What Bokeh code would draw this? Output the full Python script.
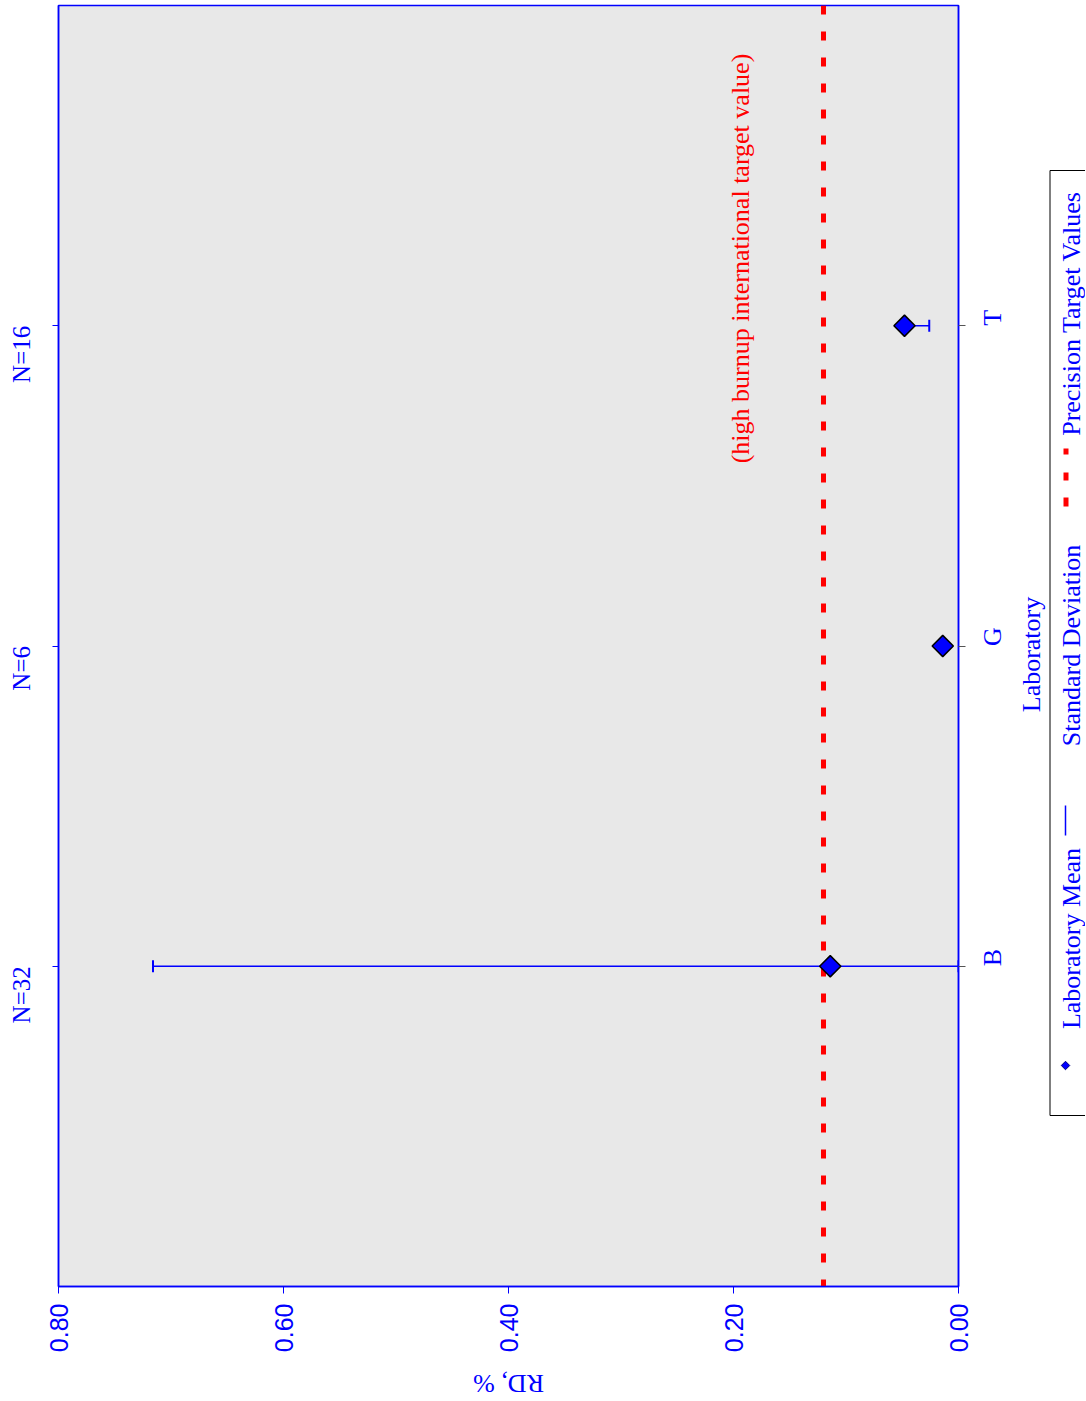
import math
from bokeh.plotting import figure
from bokeh.layouts import row
from bokeh.models import (Range1d, FixedTicker, LinearAxis, Label, Span, Whisker, TeeHead,
                          ColumnDataSource, NumeralTickFormatter)
from bokeh.core.properties import value
from bokeh.embed import file_html
from bokeh.resources import INLINE

# ---- data ----
labs = ["B", "G", "T"]
n_counts = ["N=32", "N=6", "N=16"]
lab_mean = [0.114, 0.014, 0.048]
sd_low = [0.0, 0.014, 0.026]
sd_high = [0.716, 0.014, 0.048]
target_value = 0.12
rd_ticks = [0.0, 0.2, 0.4, 0.6, 0.8]
lab_pos = [1, 2, 3]
legend_items = ["Laboratory Mean", "Standard Deviation", "Precision Target Values"]
x_title = "RD, %"
y_title = "Laboratory"
note = "(high burnup international target value)"

BLUE = "#0000ff"
RED = "#ff0000"
SERIF = "Liberation Serif"

SHIFT = 10                              # main figure pulled left by this many px
FL, FT, FW, FH = 68, 5, 900, 1281       # frame placement within canvas
BR, BB = 70, 114
H = FT + FH + BB
PAGE_FL = FL - SHIFT                    # frame left edge on the page
MAIN_END = PAGE_FL + FW + BR            # right edge of main canvas on the page
OV_W = 1085


def sx(px):
    return px - PAGE_FL


def sy(py):
    return FT + FH - py


p = figure(frame_width=FW, frame_height=FH,
           x_range=Range1d(0.8, 0.0), y_range=Range1d(0, 4),
           output_backend="svg", toolbar_location=None,
           x_axis_location=None, y_axis_location=None,
           min_border_left=FL, min_border_right=BR, min_border_top=FT, min_border_bottom=BB,
           background_fill_color="#e8e8e8", border_fill_color="white",
           outline_line_color=BLUE, outline_line_width=1.5,
           margin=(0, 0, 0, -SHIFT))
p.grid.visible = False

# bottom value axis
xa = LinearAxis(ticker=FixedTicker(ticks=rd_ticks), formatter=NumeralTickFormatter(format="0.00"),
                major_label_orientation=math.pi / 2,
                axis_line_color=BLUE, axis_line_width=1.5,
                major_tick_line_color=BLUE, major_tick_in=0, major_tick_out=7,
                minor_tick_line_color=None,
                major_label_text_color=BLUE, major_label_text_font="Liberation Sans",
                major_label_text_font_size="25px", major_label_standoff=10)
p.add_layout(xa, "below")

# left axis: counts
ya_l = LinearAxis(ticker=FixedTicker(ticks=lab_pos),
                  major_label_overrides={pos: n for pos, n in zip(lab_pos, n_counts)},
                  major_label_orientation=math.pi / 2,
                  axis_line_color=BLUE, axis_line_width=1.5,
                  major_tick_line_color=BLUE, major_tick_in=0, major_tick_out=6,
                  minor_tick_line_color=None,
                  major_label_text_color=BLUE, major_label_text_font=SERIF,
                  major_label_text_font_size="25px", major_label_standoff=31)
p.add_layout(ya_l, "left")

# right axis: laboratories
ya_r = LinearAxis(ticker=FixedTicker(ticks=lab_pos),
                  major_label_overrides={pos: l for pos, l in zip(lab_pos, labs)},
                  major_label_orientation=math.pi / 2,
                  axis_line_color=BLUE, axis_line_width=1.5,
                  major_tick_line_color="#555555", major_tick_in=0, major_tick_out=7,
                  minor_tick_line_color=None,
                  major_label_text_color=BLUE, major_label_text_font=SERIF,
                  major_label_text_font_size="26px", major_label_standoff=27)
p.add_layout(ya_r, "right")

# precision target line
p.add_layout(Span(location=target_value, dimension="height", line_color=RED,
                  line_width=5, line_dash="9 17", level="underlay"))

# standard deviation bars
src = ColumnDataSource(dict(base=lab_pos, lower=sd_low, upper=sd_high, mean=lab_mean))
p.add_layout(Whisker(source=src, base="base", lower="lower", upper="upper", dimension="width",
                     line_color=BLUE, line_width=1.5,
                     lower_head=TeeHead(size=12, line_color=BLUE, line_width=2),
                     upper_head=TeeHead(size=12, line_color=BLUE, line_width=2)))

# laboratory means
p.scatter("mean", "base", source=src, marker="square", angle=math.pi / 4, size=15,
          fill_color=BLUE, line_color="black", line_width=1.5)

# note beside the target line
p.add_layout(Label(x=sx(740), y=sy(258), x_units="screen", y_units="screen",
                   text=note, angle=math.pi / 2, text_align="center", text_baseline="middle",
                   text_color=RED, text_font=SERIF, text_font_size="26px"))

# ---- transparent overlay (page-pixel coordinates) for titles and legend ----
ov = figure(frame_width=OV_W, frame_height=H,
            x_range=Range1d(0, OV_W), y_range=Range1d(0, H),
            output_backend="svg", toolbar_location=None,
            x_axis_location=None, y_axis_location=None,
            min_border=0, outline_line_color=None,
            background_fill_alpha=0, border_fill_alpha=0,
            margin=(0, 0, 0, -MAIN_END))
ov.grid.visible = False


def ly(py):
    return H - py


# axis titles
ov.text([1031], [ly(649)], text=[y_title], angle=math.pi / 2,
        text_align="center", text_baseline="middle",
        text_color=BLUE, text_font=value(SERIF), text_font_size="26px")
ov.text([508], [ly(1378)], text=[x_title], angle=math.pi,
        text_align="center", text_baseline="middle",
        text_color=BLUE, text_font=value(SERIF), text_font_size="26px")

# legend
ov.quad(left=[1049.5], right=[1110], top=[ly(165)], bottom=[ly(1110)],
        fill_color=None, line_color="black", line_width=1)
ov.scatter([1065], [ly(1060)], marker="square", angle=math.pi / 4, size=6,
           fill_color=BLUE, line_color="#000080", line_width=1)
ov.segment([1065], [ly(830)], [1065], [ly(800)], line_color=BLUE, line_width=1.5)
ov.segment([1065.5] * 3, [ly(443), ly(467), ly(492)], [1065.5] * 3, [ly(449), ly(475), ly(501)],
           line_color=RED, line_width=5)
ov.text([1071, 1071, 1071], [ly(933), ly(640), ly(308)], text=legend_items,
        angle=math.pi / 2, text_align="center", text_baseline="middle",
        text_color=BLUE, text_font=value(SERIF), text_font_size="26px")

layout = row(p, ov)
open("out.html", "w").write(file_html(layout, INLINE))
